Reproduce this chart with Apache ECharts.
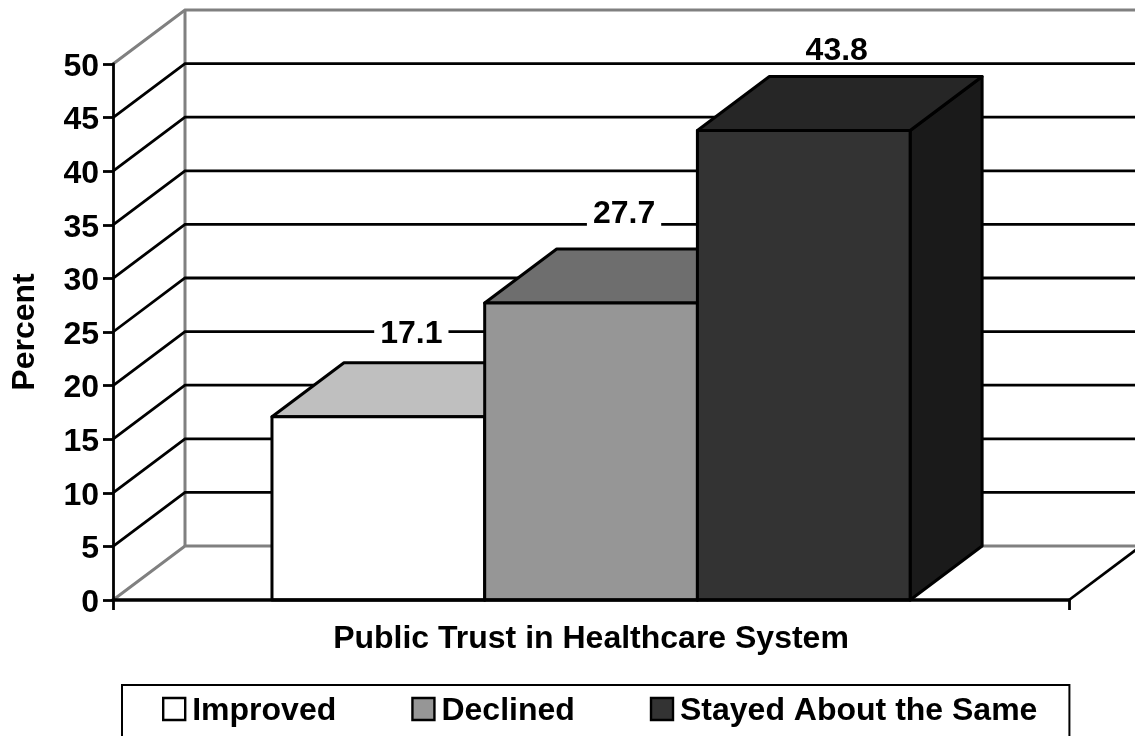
<!DOCTYPE html>
<html>
<head>
<meta charset="utf-8">
<style>html,body{margin:0;padding:0;background:#fff;overflow:hidden}#c{width:1135px;height:736px}</style>
<script src="https://cdn.jsdelivr.net/npm/echarts@6/dist/echarts.min.js"></script>
</head>
<body>
<div id="c"></div>
<script>
const categories = ['Public Trust in Healthcare System'];
const yTicks = [0, 5, 10, 15, 20, 25, 30, 35, 40, 45, 50];
const seriesNames = ['Improved', 'Declined', 'Stayed About the Same'];
const improved = [17.1];
const declined = [27.7];
const stayed = [43.8];
const seriesValues = [improved, declined, stayed];

const FONT = '"Liberation Sans", Arial, sans-serif';
const DX = 72, DY = -54;
const front = ['#FFFFFF', '#969696', '#333333'];
const top_ = ['#BFBFBF', '#6E6E6E', '#262626'];
const side = ['#808080', '#4B4B4B', '#1A1A1A'];
const labelLift = [83, 89, 79];
const BAR_START = 0.1663, BAR_W = 0.2225;

function wallItem(params, api) {
  const v = api.value(0);
  const p = api.coord([0, v]);
  const band = api.size([1, 0])[0];
  const l = p[0] - band / 2, r = p[0] + band / 2, y = p[1];
  const children = [];
  const edge = v === 0 || v === 50;
  const stroke = edge ? '#808080' : '#000000';
  const lw = edge ? 3 : 2.8;
  children.push({type: 'polyline', shape: {points: [[l, y], [l + DX, y + DY], [r + DX, y + DY]]},
    style: {fill: null, stroke: stroke, lineWidth: lw}});
  if (v === 0) {
    const topY = api.coord([0, 50])[1] + DY;
    children.push({type: 'line', shape: {x1: l + DX, y1: y + DY, x2: l + DX, y2: topY},
      style: {stroke: '#808080', lineWidth: 3}});
    children.push({type: 'line', shape: {x1: r, y1: y, x2: r + DX, y2: y + DY},
      style: {stroke: '#000000', lineWidth: 2.8}});
  }
  return {type: 'group', children: children};
}

function barItem(i) {
  return function (params, api) {
    const v = api.value(1);
    const c = api.coord([0, 0]);
    const t = api.coord([0, v]);
    const band = api.size([1, 0])[0];
    const x0 = c[0] - band / 2 + band * (BAR_START + BAR_W * i);
    const x1 = x0 + band * BAR_W;
    const yb = c[1], yt = t[1];
    const st = {stroke: '#000000', lineWidth: 3, lineJoin: 'round'};
    const poly = (pts, fill) => ({type: 'polygon', shape: {points: pts}, style: Object.assign({fill: fill}, st)});
    return {type: 'group', children: [
      poly([[x1, yb], [x1 + DX, yb + DY], [x1 + DX, yt + DY], [x1, yt]], side[i]),
      poly([[x0, yt], [x0 + DX, yt + DY], [x1 + DX, yt + DY], [x1, yt]], top_[i]),
      poly([[x0, yb], [x0, yt], [x1, yt], [x1, yb]], front[i]),
      {type: 'text', x: (x0 + x1) / 2 + 33, y: yt - labelLift[i], z2: 50,
        style: {text: v.toFixed(1), fill: '#000', font: 'bold 32px ' + FONT, align: 'center', verticalAlign: 'middle',
          backgroundColor: i < 2 ? '#fff' : null, padding: [0, 6], lineHeight: 28}}
    ]};
  };
}

const chart = echarts.init(document.getElementById('c'), null, {renderer: 'canvas'});
chart.setOption({
  animation: false,
  backgroundColor: '#fff',
  grid: {left: 113, right: 66, top: 64, bottom: 136, containLabel: false, outerBoundsMode: 'none'},
  legend: {
    left: 122, top: 685,
    orient: 'horizontal',
    padding: [10, 32, 30, 40],
    borderColor: '#000', borderWidth: 2, backgroundColor: '#fff',
    itemWidth: 22, itemHeight: 22, itemGap: 75,
    selectedMode: false,
    formatter: '{t|{name}}',
    textStyle: {color: '#000', fontFamily: FONT, fontWeight: 'bold', fontSize: 32,
      rich: {t: {color: '#000', fontFamily: FONT, fontWeight: 'bold', fontSize: 32, padding: [4, 0, 0, 2]}}},
    data: seriesNames.map((n, i) => ({name: n, icon: 'rect',
      itemStyle: {color: front[i], borderColor: '#000', borderWidth: 2.4}}))
  },
  xAxis: {
    type: 'category', data: categories, z: 6,
    name: categories[0], nameLocation: 'middle', nameGap: 23,
    nameTextStyle: {color: '#000', fontFamily: FONT, fontWeight: 'bold', fontSize: 32},
    axisLine: {lineStyle: {color: '#000', width: 3.6}},
    axisTick: {show: true, alignWithLabel: false, length: 10, lineStyle: {color: '#000', width: 2.8}},
    axisLabel: {show: false}, splitLine: {show: false}
  },
  yAxis: {
    type: 'value', min: 0, max: 50, interval: 5, z: 6,
    name: 'Percent', nameLocation: 'middle', nameGap: 72, nameRotate: 90,
    nameTextStyle: {color: '#000', fontFamily: FONT, fontWeight: 'bold', fontSize: 32},
    axisLine: {show: true, lineStyle: {color: '#000', width: 2.8}},
    axisTick: {show: true, length: 10, lineStyle: {color: '#000', width: 2.8}},
    axisLabel: {color: '#000', fontFamily: FONT, fontWeight: 'bold', fontSize: 32, margin: 14, verticalAlign: 'top', lineHeight: 6},
    splitLine: {show: false}
  },
  series: [
    {type: 'custom', silent: true, z: 1, clip: false, renderItem: wallItem,
      encode: {y: 0}, data: yTicks.map(v => [v])}
  ].concat(seriesNames.map((n, i) => ({
    type: 'custom', name: n, silent: true, z: 2 + i, clip: false,
    itemStyle: {color: front[i]},
    renderItem: barItem(i),
    encode: {x: 0, y: 1},
    data: seriesValues[i].map((v, k) => [k, v])
  })))
});
</script>
</body>
</html>
